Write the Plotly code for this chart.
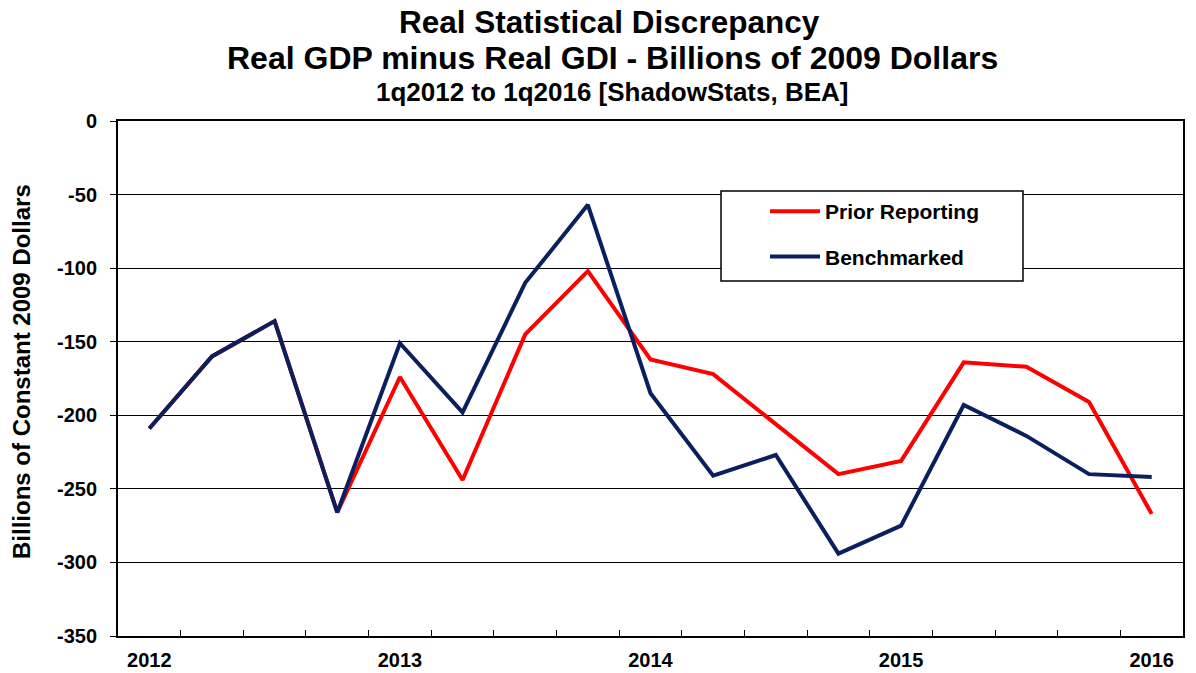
import plotly.graph_objects as go

# Quarterly observations, 1q2012 through 1q2016
quarters = ["1q2012", "2q2012", "3q2012", "4q2012",
            "1q2013", "2q2013", "3q2013", "4q2013",
            "1q2014", "2q2014", "3q2014", "4q2014",
            "1q2015", "2q2015", "3q2015", "4q2015",
            "1q2016"]

prior_reporting = [-209, -160, -136, -266, -174, -244, -145, -102,
                   -162, -172, -206, -240, -231, -164, -167, -191, -267]

benchmarked = [-209, -160, -136, -266, -151, -198, -110, -57,
               -185, -241, -227, -294, -275, -193, -214, -240, -242]

year_labels = ["2012", "2013", "2014", "2015", "2016"]
year_positions = [0, 4, 8, 12, 16]

y_tick_values = [0, -50, -100, -150, -200, -250, -300, -350]
y_tick_labels = ["0", "-50", "-100", "-150", "-200", "-250", "-300", "-350"]

x = list(range(len(quarters)))

fig = go.Figure()
fig.add_trace(go.Scatter(
    x=x, y=prior_reporting, mode="lines", name="Prior Reporting",
    line=dict(color="#FF0000", width=4), legendgroup="a",
    customdata=quarters, hovertemplate="%{customdata}: %{y}<extra></extra>"))
fig.add_trace(go.Scatter(
    x=x, y=benchmarked, mode="lines", name="Benchmarked",
    line=dict(color="#0A1F5E", width=4), legendgroup="b",
    customdata=quarters, hovertemplate="%{customdata}: %{y}<extra></extra>"))

W, H = 1196, 673
L, R, T, B = 118, 13, 121, 37
pw, ph = W - L - R, H - T - B

def px_x(p):
    return (p - L) / pw

def px_y(p):
    return (H - B - p) / ph

base_font = "Liberation Sans, Arial, sans-serif"
annots = [
    dict(text="Real Statistical Discrepancy", x=px_x(609), y=px_y(22),
         font=dict(size=31.5)),
    dict(text="Real GDP minus Real GDI - Billions of 2009 Dollars", x=px_x(612), y=px_y(58),
         font=dict(size=32)),
    dict(text="1q2012 to 1q2016 [ShadowStats, BEA]", x=px_x(612), y=px_y(92),
         font=dict(size=26)),
    # vertical axis title
    dict(text="Billions of Constant 2009 Dollars", x=px_x(21), y=px_y(372),
         textangle=-90, font=dict(size=24)),
]
for a in annots:
    a.update(xref="paper", yref="paper", showarrow=False, xanchor="center", yanchor="middle")
    a["font"].update(color="black", family=base_font, weight="bold")

fig.update_layout(
    width=W, height=H,
    margin=dict(l=L, r=R, t=T, b=B, pad=0),
    paper_bgcolor="white", plot_bgcolor="white",
    font=dict(family=base_font, color="black", size=20, weight="bold"),
    annotations=annots,
    showlegend=True,
    legend=dict(
        x=px_x(765), y=px_y(191), xanchor="left", yanchor="top",
        bgcolor="rgba(0,0,0,0)", borderwidth=0, itemwidth=50,
        font=dict(size=21, color="black", family=base_font, weight="bold"),
        traceorder="grouped", tracegroupgap=15,
    ),
    shapes=[dict(type="rect", xref="paper", yref="paper",
                 x0=px_x(721), x1=px_x(1023), y0=px_y(281), y1=px_y(191),
                 line=dict(color="black", width=1.5), fillcolor="white", layer="above")],
)

fig.update_xaxes(
    range=[-0.5, len(quarters) - 0.5], automargin=False,
    tickmode="array", tickvals=year_positions, ticktext=year_labels,
    ticks="", showgrid=False, zeroline=False, ticklabelstandoff=5,
    showline=True, linecolor="black", linewidth=2, mirror=True,
    tickfont=dict(size=20, color="black", weight="bold"),
    minor=dict(tickvals=[i + 0.5 for i in range(len(quarters) - 1)],
               ticks="inside", ticklen=6, tickwidth=1.2, tickcolor="black", showgrid=False),
)
fig.update_yaxes(
    range=[-350, 0], automargin=False, tickmode="array", tickvals=y_tick_values,
    ticktext=y_tick_labels,
    ticks="outside", ticklen=6, tickwidth=1.2, tickcolor="black",
    ticklabelstandoff=9,
    showgrid=True, gridcolor="black", gridwidth=1, zeroline=False,
    showline=True, linecolor="black", linewidth=2, mirror=True,
    tickfont=dict(size=20, color="black", weight="bold"),
)

fig.write_html("out.html")
